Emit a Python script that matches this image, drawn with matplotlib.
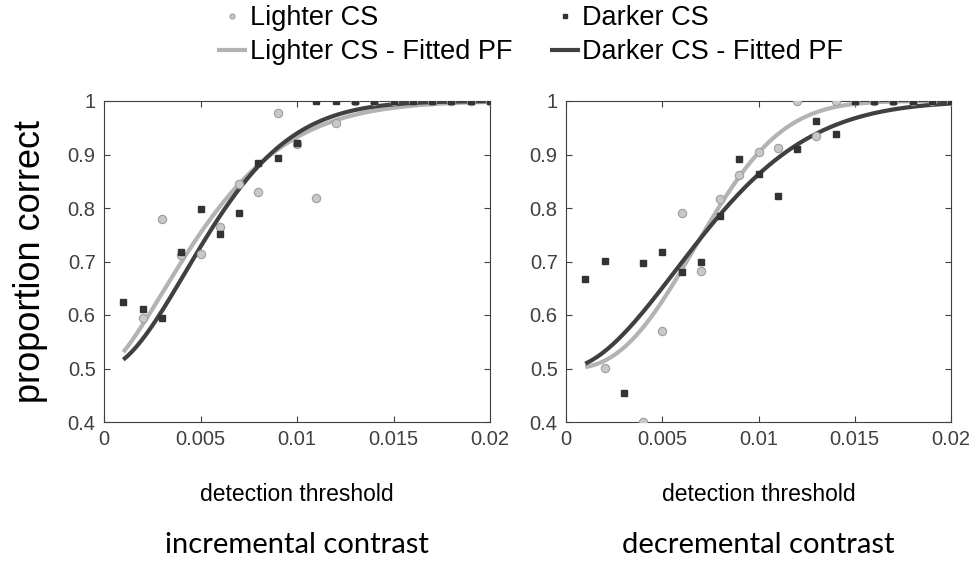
import numpy as np
import matplotlib
matplotlib.use("Agg")
from matplotlib import pyplot as plt

plt.rcParams['font.family'] = ['Liberation Sans', 'DejaVu Sans']

# stimulus levels (detection threshold)
x_levels = [0.001, 0.002, 0.003, 0.004, 0.005, 0.006, 0.007, 0.008, 0.009, 0.010,
            0.011, 0.012, 0.013, 0.014, 0.015, 0.016, 0.017, 0.018, 0.019, 0.020]

# incremental contrast
inc_light_x = x_levels[1:]
inc_light_y = [0.594, 0.779, 0.712, 0.714, 0.765, 0.844, 0.829, 0.978, 0.920, 0.819,
               0.958, 1, 1, 1, 1, 1, 1, 1, 1]
inc_dark_x = x_levels
inc_dark_y = [0.625, 0.611, 0.594, 0.717, 0.798, 0.751, 0.791, 0.885, 0.894, 0.921,
              1, 1, 1, 1, 1, 1, 1, 1, 1, 1]

# decremental contrast
dec_light_x = [0.002] + x_levels[3:]
dec_light_y = [0.501, 0.400, 0.570, 0.791, 0.683, 0.816, 0.862, 0.904, 0.912, 1.0,
               0.934, 1.0, 1, 1, 1, 1, 1, 1]
dec_dark_x = x_levels
dec_dark_y = [0.668, 0.701, 0.455, 0.697, 0.718, 0.681, 0.699, 0.785, 0.892, 0.863,
              0.822, 0.910, 0.962, 0.938, 1, 1, 1, 1, 1, 1]

# fitted Weibull PF parameters (threshold alpha, slope beta), guess rate 0.5
inc_light_fit = (0.0063, 1.5)
inc_dark_fit = (0.0066, 1.8)
dec_light_fit = (0.0082, 2.5)
dec_dark_fit = (0.0087, 1.85)

panel_titles = ['incremental contrast', 'decremental contrast']
x_ticks = [0, 0.005, 0.01, 0.015, 0.02]
x_ticklabels = ['0', '0.005', '0.01', '0.015', '0.02']
y_ticks = [0.4, 0.5, 0.6, 0.7, 0.8, 0.9, 1.0]
y_ticklabels = ['0.4', '0.5', '0.6', '0.7', '0.8', '0.9', '1']

LIGHT_LINE = '#b3b3b3'
LIGHT_FACE = '#c8c8c8'
LIGHT_EDGE = '#9e9e9e'
DARK = '#404040'
AX_COL = '#404040'


def weibull(x, alpha, beta):
    return 0.5 + 0.5 * (1 - np.exp(-(x / alpha) ** beta))


W, H = 976, 561
fig = plt.figure(figsize=(W / 100, H / 100), dpi=100)
ax1 = fig.add_axes([104 / W, 1 - 422 / H, 386 / W, 321 / H])
ax2 = fig.add_axes([566 / W, 1 - 422 / H, 385 / W, 321 / H])

panels = [
    (ax1, inc_light_x, inc_light_y, inc_dark_x, inc_dark_y, inc_light_fit, inc_dark_fit),
    (ax2, dec_light_x, dec_light_y, dec_dark_x, dec_dark_y, dec_light_fit, dec_dark_fit),
]

xs = np.linspace(0.001, 0.02, 300)
handles = None
for i, (ax, lx, ly, dx, dy, lfit, dfit) in enumerate(panels):
    h_lf, = ax.plot(xs, weibull(xs, *lfit), color=LIGHT_LINE, lw=3, zorder=2,
                    solid_capstyle='butt')
    h_df, = ax.plot(xs, weibull(xs, *dfit), color=DARK, lw=3, zorder=2,
                    solid_capstyle='butt')
    h_l, = ax.plot(lx, ly, 'o', ms=6, mfc=LIGHT_FACE, mec=LIGHT_EDGE, mew=0.8,
                   ls='none', zorder=3)
    h_d, = ax.plot(dx, dy, 's', ms=5, mfc='#333333', mec='#333333', ls='none', zorder=4)
    if handles is None:
        handles = [h_l, h_lf, h_d, h_df]

    ax.set_xlim(0, 0.02)
    ax.set_ylim(0.4, 1.0)
    ax.set_xticks(x_ticks)
    ax.set_xticklabels(x_ticklabels)
    ax.set_yticks(y_ticks)
    ax.set_yticklabels(y_ticklabels)
    ax.tick_params(direction='in', top=True, right=True, length=4, width=0.8,
                   colors=AX_COL, labelsize=14.5, pad=6)
    for s in ax.spines.values():
        s.set_color(AX_COL)
        s.set_linewidth(0.8)
    ax.set_xlabel('detection threshold', fontsize=16.5, labelpad=24, color='black')

    cx = (ax.get_position().x0 + ax.get_position().x1) / 2
    fig.text(cx, 1 - 545 / H, panel_titles[i], family=['Lato', 'DejaVu Sans'],
             fontsize=21, ha='center', va='center', color='black')

ax1.set_ylabel('proportion correct', fontsize=26, labelpad=14, color='black')

fig.legend(handles, ['Lighter CS', 'Lighter CS - Fitted PF',
                     'Darker CS', 'Darker CS - Fitted PF'],
           ncol=2, loc='upper left', bbox_to_anchor=(217 / W, 1 - 5 / H),
           frameon=False, fontsize=19.5, borderpad=0, borderaxespad=0,
           handlelength=1.1, handletextpad=0.1, columnspacing=1.4,
           labelspacing=0.3, markerscale=0.6)

fig.savefig('out.png', dpi=100)
